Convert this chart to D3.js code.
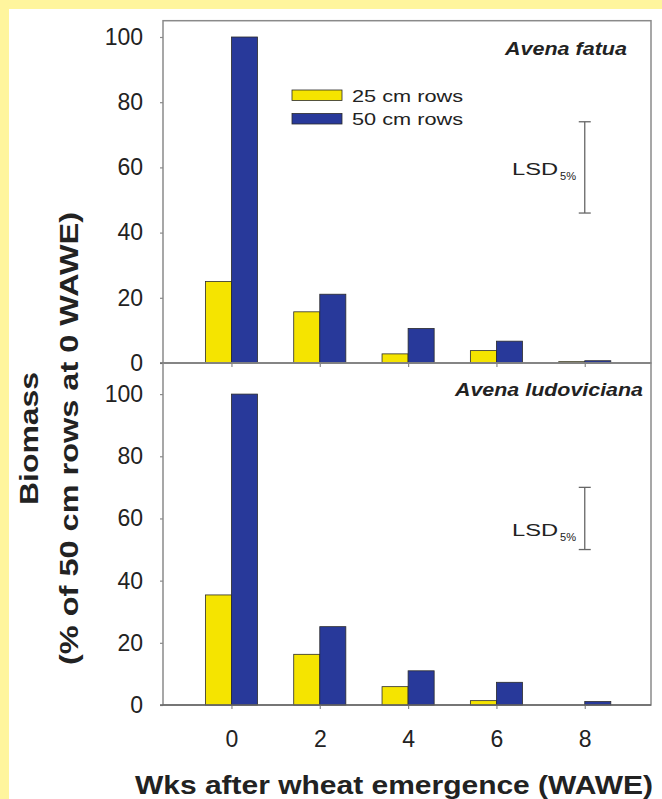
<!DOCTYPE html>
<html>
<head>
<meta charset="utf-8">
<script src="https://cdn.jsdelivr.net/npm/d3@7"></script>
<style>
  html, body { margin: 0; padding: 0; background: #fff59d; }
  .chart { width: 662px; height: 799px; }
  text { font-family: 'Liberation Sans', Arial, sans-serif; fill: #222; }
</style>
</head>
<body>
<div class="chart"></div>
<script>
const weeks = [0, 2, 4, 6, 8];
const seriesNames = ['25 cm rows', '50 cm rows'];

// Avena fatua
const fatua25 = [25, 15.7, 2.8, 3.8, 0.4];
const fatua50 = [100, 21.1, 10.6, 6.7, 0.7];
const fatuaLsd = [46, 74];

// Avena ludoviciana
const ludo25 = [35.4, 16.3, 5.9, 1.4, 0];
const ludo50 = [100, 25.2, 11.0, 7.3, 1.1];
const ludoLsd = [50, 70];

const yTicks = [0, 20, 40, 60, 80, 100];

const config = {
  width: 662,
  height: 799,
  left: 163,
  right: 651,
  colors: ['#f5e400', '#28399a'],
  frame: '#8a8a8a'
};

const chart = {};

function render() {
  chart.$svg = d3.select('.chart')
    .append('svg')
    .attr('width', config.width)
    .attr('height', config.height);

  // white page on the yellow background
  chart.$svg.append('rect')
    .attr('x', 9)
    .attr('y', 9)
    .attr('width', config.width - 9)
    .attr('height', config.height - 9)
    .attr('fill', '#fff');

  chart.x = d3.scaleLinear()
    .domain([-1.55, 9.5])
    .range([config.left, config.right]);

  const barW = chart.x(0.59) - chart.x(0);

  const panels = [
    { name: 'Avena fatua', s25: fatua25, s50: fatua50, lsd: fatuaLsd,
      y: d3.scaleLinear().domain([0, 105]).range([363, 20.7]),
      label: { x: 627, y: 55, len: 122 }, lsdText: 175, labels: false },
    { name: 'Avena ludoviciana', s25: ludo25, s50: ludo50, lsd: ludoLsd,
      y: d3.scaleLinear().domain([0, 110]).range([705, 363]),
      label: { x: 643, y: 396, len: 188 }, lsdText: 536, labels: true }
  ];

  panels.forEach(p => {
    const $g = chart.$svg.append('g');
    const y0 = p.y(0);
    const yTop = p.y.range()[1];

    // frame
    $g.append('rect')
      .attr('x', config.left)
      .attr('y', yTop)
      .attr('width', config.right - config.left)
      .attr('height', y0 - yTop)
      .attr('fill', 'none')
      .attr('stroke', config.frame)
      .attr('stroke-width', 1.5);

    // bars
    [p.s25, p.s50].forEach((values, si) => {
      $g.append('g')
        .selectAll('rect')
        .data(values)
        .enter()
        .append('rect')
        .attr('x', (d, i) => si === 0 ? chart.x(weeks[i]) - barW : chart.x(weeks[i]))
        .attr('y', d => p.y(d))
        .attr('width', barW)
        .attr('height', d => y0 - p.y(d))
        .attr('fill', config.colors[si])
        .attr('stroke', '#2b2b2b')
        .attr('stroke-width', 0.8);
    });

    // y axis
    const $yAxis = $g.append('g')
      .attr('transform', `translate(${config.left},0)`)
      .call(d3.axisLeft(p.y).tickValues(yTicks).tickSize(3).tickPadding(17));
    $yAxis.select('.domain').remove();
    $yAxis.selectAll('line').attr('stroke', config.frame).attr('stroke-width', 1.2);
    $yAxis.selectAll('text')
      .attr('font-size', 23)
      .attr('font-family', "'Liberation Sans', Arial, sans-serif")
      .attr('fill', '#222');

    // x axis line at zero
    const $xAxis = $g.append('g')
      .attr('transform', `translate(0,${y0})`)
      .call(d3.axisBottom(chart.x).tickValues(weeks).tickSize(4).tickPadding(22)
        .tickFormat(p.labels ? d3.format('d') : ''));
    $xAxis.select('.domain').remove();
    $xAxis.selectAll('line').attr('stroke', config.frame).attr('stroke-width', 1.2);
    $xAxis.selectAll('text')
      .attr('font-size', 23)
      .attr('font-family', "'Liberation Sans', Arial, sans-serif")
      .attr('fill', '#222');
    $g.append('line')
      .attr('x1', config.left - 3)
      .attr('x2', config.right)
      .attr('y1', y0)
      .attr('y2', y0)
      .attr('stroke', '#666')
      .attr('stroke-width', 1.6);

    // species label
    $g.append('text')
      .attr('x', p.label.x)
      .attr('y', p.label.y)
      .attr('text-anchor', 'end')
      .attr('font-size', 18)
      .attr('font-weight', 'bold')
      .attr('font-style', 'italic')
      .attr('textLength', p.label.len)
      .attr('lengthAdjust', 'spacingAndGlyphs')
      .text(p.name);

    // LSD bar
    const lx = chart.x(8);
    $g.append('line')
      .attr('x1', lx).attr('x2', lx)
      .attr('y1', p.y(p.lsd[0])).attr('y2', p.y(p.lsd[1]))
      .attr('stroke', '#666').attr('stroke-width', 1.3);
    p.lsd.forEach(v => {
      $g.append('line')
        .attr('x1', lx - 6).attr('x2', lx + 6)
        .attr('y1', p.y(v)).attr('y2', p.y(v))
        .attr('stroke', '#666').attr('stroke-width', 1.3);
    });
    $g.append('text')
      .attr('x', 512)
      .attr('y', p.lsdText)
      .attr('font-size', 16)
      .attr('textLength', 46)
      .attr('lengthAdjust', 'spacingAndGlyphs')
      .text('LSD');
    $g.append('text')
      .attr('x', 560)
      .attr('y', p.lsdText + 5)
      .attr('font-size', 10)
      .attr('textLength', 16)
      .attr('lengthAdjust', 'spacingAndGlyphs')
      .text('5%');
  });

  // legend
  const $legend = chart.$svg.append('g');
  seriesNames.forEach((name, i) => {
    $legend.append('rect')
      .attr('x', 292)
      .attr('y', 90 + i * 23.5)
      .attr('width', 50)
      .attr('height', 10.5)
      .attr('fill', config.colors[i])
      .attr('stroke', '#2b2b2b')
      .attr('stroke-width', 0.8);
    $legend.append('text')
      .attr('x', 352)
      .attr('y', 101.5 + i * 23.5)
      .attr('font-size', 16)
      .attr('textLength', 111)
      .attr('lengthAdjust', 'spacingAndGlyphs')
      .text(name);
  });

  // axis titles
  chart.$svg.append('text')
    .attr('x', 394)
    .attr('y', 794)
    .attr('text-anchor', 'middle')
    .attr('font-size', 25)
    .attr('font-weight', 'bold')
    .attr('textLength', 518)
    .attr('lengthAdjust', 'spacingAndGlyphs')
    .text('Wks after wheat emergence (WAWE)');

  [['Biomass', 38, 133], ['(% of 50 cm rows at 0 WAWE)', 78, 453]].forEach(([t, bx, len]) => {
    chart.$svg.append('text')
      .attr('transform', `translate(${bx},438.5) rotate(-90)`)
      .attr('text-anchor', 'middle')
      .attr('font-size', 25)
      .attr('font-weight', 'bold')
      .attr('textLength', len)
      .attr('lengthAdjust', 'spacingAndGlyphs')
      .text(t);
  });
}

render();
</script>
</body>
</html>
